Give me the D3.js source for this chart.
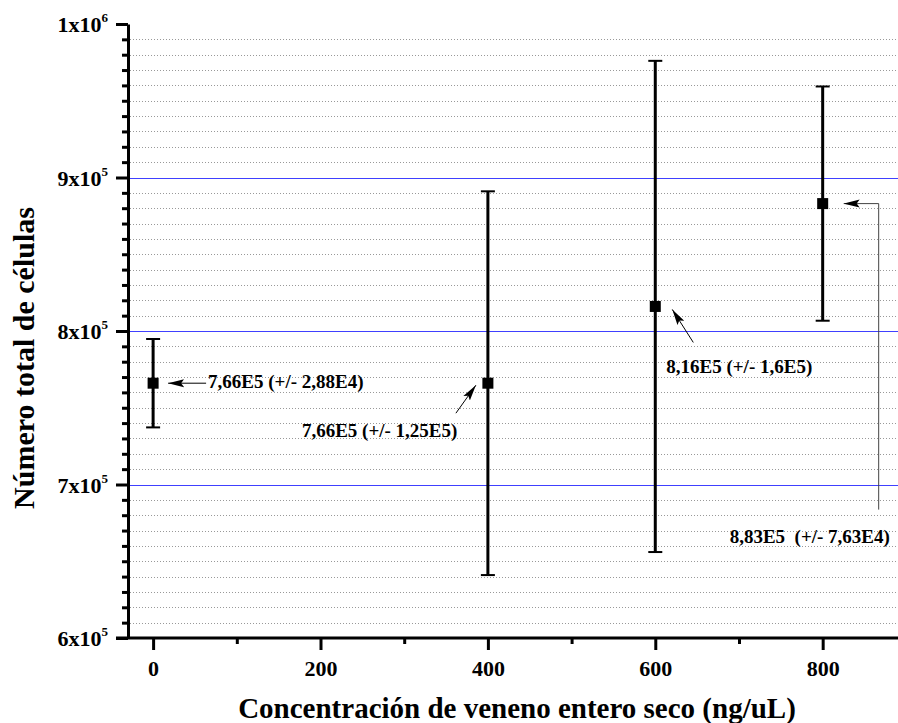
<!DOCTYPE html>
<html>
<head>
<meta charset="utf-8">
<script src="https://d3js.org/d3.v7.min.js"></script>
<style>
  body { margin: 0; background: #fff; }
  svg text { font-family: "Liberation Serif", "Times New Roman", serif; font-weight: bold; fill: #000; }
  .axis path, .axis line { stroke: #000; }
  .note { font-size: 19px; }
</style>
</head>
<body>
<script>
// data
var conc = [0, 400, 600, 800];
var meanCells = [7.66e5, 7.66e5, 8.16e5, 8.83e5];
var errCells = [2.88e4, 1.25e5, 1.6e5, 7.63e4];
var noteLabels = ["7,66E5 (+/- 2,88E4)", "7,66E5 (+/- 1,25E5)", "8,16E5 (+/- 1,6E5)", "8,83E5\u00a0 (+/- 7,63E4)"];
var xMajorTicks = [0, 200, 400, 600, 800];
var xMinorTicks = [100, 300, 500, 700];
var yMajorTicks = [6e5, 7e5, 8e5, 9e5, 1e6];
var yGridBlue = [7e5, 8e5, 9e5];

var width = 898, height = 723;
var x = d3.scaleLinear().domain([-30, 890]).range([128, 898]);
var y = d3.scaleLinear().domain([6e5, 1e6]).range([638, 24]);

var svg = d3.select("body").append("svg")
    .attr("width", width)
    .attr("height", height);

// arrowhead
svg.append("defs").append("marker")
    .attr("id", "head")
    .attr("markerUnits", "userSpaceOnUse")
    .attr("viewBox", "0 0 16 10")
    .attr("refX", 16).attr("refY", 5)
    .attr("markerWidth", 16).attr("markerHeight", 10)
    .attr("orient", "auto")
  .append("path")
    .attr("d", "M0,1 L16,5 L0,9 L3,5 Z")
    .attr("fill", "#000");

// minor grid, every 1e4
var minorY = d3.range(61, 100).filter(function(k) { return k % 10 !== 0; }).map(function(k) { return k * 1e4; });
svg.append("g").selectAll("line")
    .data(minorY)
    .enter().append("line")
    .attr("x1", x.range()[0] + 2).attr("x2", width)
    .attr("y1", function(d) { return Math.round(y(d)) + 0.5; })
    .attr("y2", function(d) { return Math.round(y(d)) + 0.5; })
    .attr("stroke", "#999")
    .attr("stroke-width", 1)
    .attr("stroke-dasharray", "1,2");

// major grid (blue)
svg.append("g").selectAll("line")
    .data(yGridBlue)
    .enter().append("line")
    .attr("x1", x.range()[0]).attr("x2", width)
    .attr("y1", function(d) { return Math.round(y(d)) + 0.5; })
    .attr("y2", function(d) { return Math.round(y(d)) + 0.5; })
    .attr("stroke", "#4040ff")
    .attr("stroke-width", 1)
    .attr("shape-rendering", "crispEdges");

// y axis: minor ticks
svg.append("g")
    .attr("class", "axis")
    .attr("transform", "translate(" + x.range()[0] + ",0)")
    .call(d3.axisLeft(y).tickValues(minorY).tickSize(6).tickFormat(""))
    .call(function(g) { g.select(".domain").remove(); })
    .selectAll("line").attr("stroke-width", 3);

// y axis: major ticks with 9x10^5 style labels
var yAxis = svg.append("g")
    .attr("class", "axis")
    .attr("transform", "translate(" + x.range()[0] + ",0)")
    .call(d3.axisLeft(y).tickValues(yMajorTicks).tickSizeInner(12).tickSizeOuter(0).tickPadding(8).tickFormat(""));
yAxis.select(".domain").attr("stroke-width", 3);
yAxis.selectAll(".tick line").attr("stroke-width", 3);
yAxis.selectAll(".tick text").each(function(d) {
    var exp = Math.floor(Math.log10(d) + 1e-9);
    var mant = Math.round(d / Math.pow(10, exp));
    var t = d3.select(this)
        .attr("font-size", 22)
        .attr("dy", "0.35em");
    t.append("tspan").text(mant + "x10");
    t.append("tspan").attr("font-size", 13).attr("dy", -10).text(exp);
});

// x axis: minor ticks
svg.append("g")
    .attr("class", "axis")
    .attr("transform", "translate(0," + y.range()[0] + ")")
    .call(d3.axisBottom(x).tickValues(xMinorTicks).tickSize(6).tickFormat(""))
    .call(function(g) { g.select(".domain").remove(); })
    .selectAll("line").attr("stroke-width", 3);

// x axis: major ticks
var xAxis = svg.append("g")
    .attr("class", "axis")
    .attr("transform", "translate(0," + y.range()[0] + ")")
    .call(d3.axisBottom(x).tickValues(xMajorTicks).tickSizeInner(12).tickSizeOuter(0).tickPadding(10).tickFormat(d3.format("d")));
xAxis.select(".domain").attr("stroke-width", 3).attr("d", "M116,0H" + width);
xAxis.selectAll(".tick line").attr("stroke-width", 3);
xAxis.selectAll(".tick text").attr("font-size", 22);

// axis titles
svg.append("text")
    .attr("x", 517).attr("y", 718)
    .attr("text-anchor", "middle")
    .attr("font-size", 29)
    .text("Concentración de veneno entero seco (ng/uL)");

svg.append("text")
    .attr("transform", "translate(34,358) rotate(-90)")
    .attr("text-anchor", "middle")
    .attr("font-size", 30)
    .text("Número total de células");

// error bars
var pts = conc.map(function(c, i) { return { x: c, m: meanCells[i], e: errCells[i] }; });
var eb = svg.append("g").selectAll("g").data(pts).enter().append("g");
eb.append("line")
    .attr("x1", function(d) { return x(d.x); }).attr("x2", function(d) { return x(d.x); })
    .attr("y1", function(d) { return y(d.m - d.e); }).attr("y2", function(d) { return y(d.m + d.e); })
    .attr("stroke", "#000").attr("stroke-width", 3);
[-1, 1].forEach(function(s) {
    eb.append("line")
        .attr("x1", function(d) { return x(d.x) - 7; }).attr("x2", function(d) { return x(d.x) + 7; })
        .attr("y1", function(d) { return y(d.m + s * d.e); }).attr("y2", function(d) { return y(d.m + s * d.e); })
        .attr("stroke", "#000").attr("stroke-width", 2);
});
eb.append("rect")
    .attr("x", function(d) { return x(d.x) - 5.5; })
    .attr("y", function(d) { return y(d.m) - 5.5; })
    .attr("width", 11).attr("height", 11)
    .attr("fill", "#000");

// annotations: text position and arrow path as offsets from the point
var noteLayout = [
    { tx: 55, ty: 5, path: [[53, 0], [15, 0]] },
    { tx: -186, ty: 54, path: [[-32, 30], [-12, 2]] },
    { tx: 11, ty: 67, path: [[38, 36], [17, 3]] },
    { tx: -93, ty: 339, path: [[56, 306], [56, 0], [21, 0]] }
];
var line = d3.line();
pts.forEach(function(d, i) {
    var px = x(d.x), py = y(d.m), L = noteLayout[i];
    svg.append("text")
        .attr("class", "note")
        .attr("x", px + L.tx).attr("y", py + L.ty)
        .text(noteLabels[i]);
    svg.append("path")
        .attr("d", line(L.path.map(function(p) { return [px + p[0], py + p[1]]; })))
        .attr("fill", "none")
        .attr("stroke", i === 3 ? "#444" : "#000")
        .attr("stroke-width", 1)
        .attr("marker-end", "url(#head)");
});
</script>
</body>
</html>
